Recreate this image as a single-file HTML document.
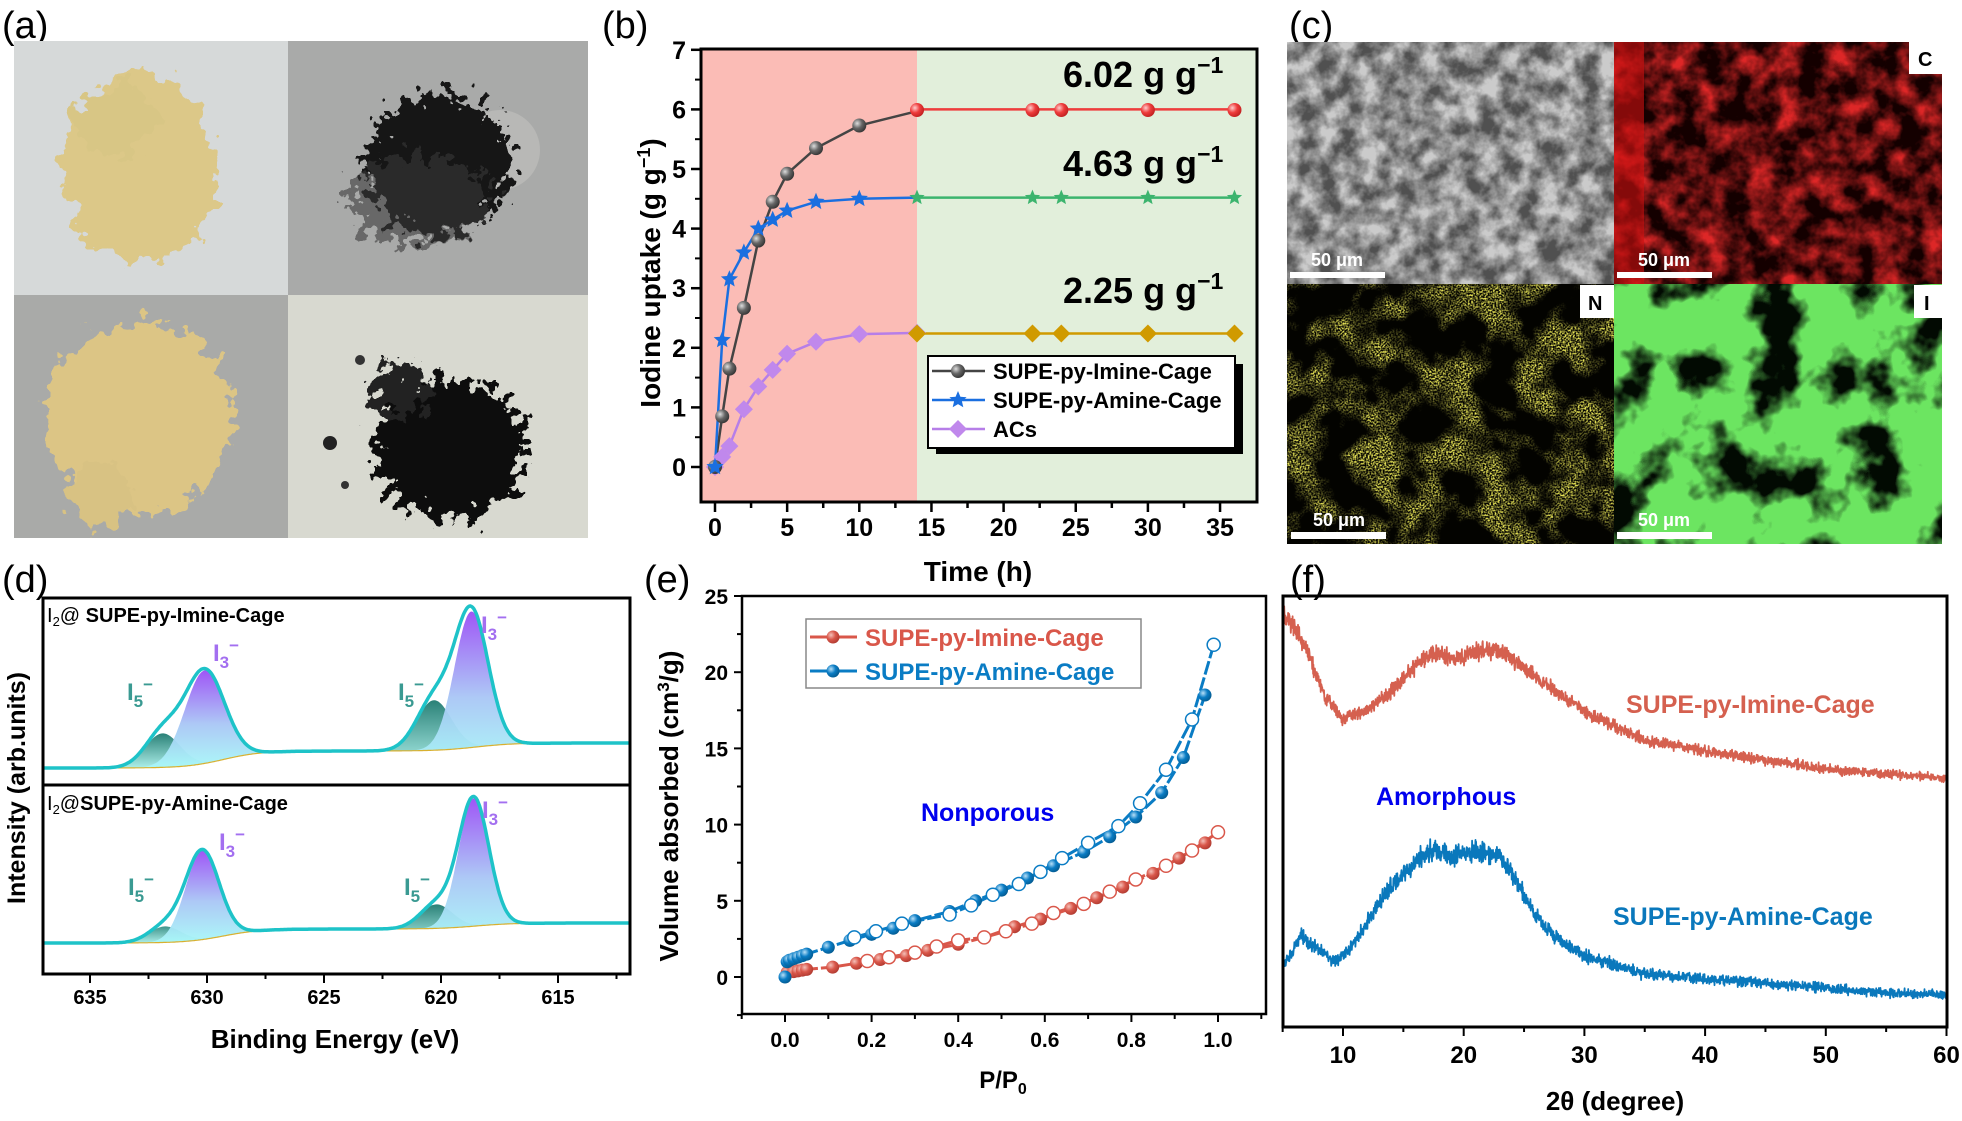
<!DOCTYPE html>
<html><head><meta charset="utf-8">
<style>
html,body{margin:0;padding:0;background:#fff;}
svg{display:block;font-family:"Liberation Sans",Arial,sans-serif;}
</style></head>
<body>
<svg id="s" xmlns="http://www.w3.org/2000/svg" width="1962" height="1121" viewBox="0 0 1962 1121">
<defs>
  <filter id="rough" x="-20%" y="-20%" width="140%" height="140%">
    <feTurbulence type="fractalNoise" baseFrequency="0.06" numOctaves="3" seed="3"/>
    <feDisplacementMap in="SourceGraphic" scale="40" xChannelSelector="R" yChannelSelector="G"/>
  </filter>
  <filter id="rough2" x="-20%" y="-20%" width="140%" height="140%">
    <feTurbulence type="fractalNoise" baseFrequency="0.09" numOctaves="3" seed="7"/>
    <feDisplacementMap in="SourceGraphic" scale="55" xChannelSelector="R" yChannelSelector="G"/>
  </filter>
  <filter id="texR"><feTurbulence type="fractalNoise" baseFrequency="0.04" numOctaves="4" seed="11"/>
    <feColorMatrix values="0 0 0 0 0.72  0 0 0 0 0.02  0 0 0 0 0.02  2.2 0 0 0 -0.75"/></filter>
  <filter id="texY" x="0" y="0" width="100%" height="100%">
    <feTurbulence type="fractalNoise" baseFrequency="0.025" numOctaves="3" seed="21" result="lo"/>
    <feColorMatrix in="lo" type="matrix" values="0 0 0 0 0  0 0 0 0 0  0 0 0 0 0  4 0 0 0 -1.7" result="mask"/>
    <feTurbulence type="fractalNoise" baseFrequency="0.6" numOctaves="1" seed="5" result="hi"/>
    <feColorMatrix in="hi" type="matrix" values="0 0 0 0 0.85  0 0 0 0 0.82  0 0 0 0 0.1  3 0 0 0 -1.1" result="dots"/>
    <feComposite in="dots" in2="mask" operator="in"/></filter>
  <filter id="texG"><feTurbulence type="fractalNoise" baseFrequency="0.02" numOctaves="4" seed="2"/>
    <feColorMatrix values="0 0 0 0 0.15  0 0 0 0 0.78  0 0 0 0 0.12  5 0 0 0 -1.6"/></filter>
  <filter id="texS"><feTurbulence type="fractalNoise" baseFrequency="0.05" numOctaves="4" seed="9"/>
    <feColorMatrix values="0 0 0 0 0.6  0 0 0 0 0.6  0 0 0 0 0.6  2.2 0 0 0 -0.6"/></filter>
  <linearGradient id="gI3" x1="0" y1="0" x2="0" y2="1">
    <stop offset="0" stop-color="#9a4df5"/><stop offset="0.55" stop-color="#a9c6f5"/><stop offset="1" stop-color="#a8f8f8"/></linearGradient>
  <linearGradient id="gI5" x1="0" y1="0" x2="0" y2="1">
    <stop offset="0" stop-color="#1f7a70"/><stop offset="1" stop-color="#a8eee8"/></linearGradient>
  <radialGradient id="ballK" cx="0.35" cy="0.35" r="0.7"><stop offset="0" stop-color="#ddd"/><stop offset="0.5" stop-color="#666"/><stop offset="1" stop-color="#333"/></radialGradient>
  <radialGradient id="ballR" cx="0.35" cy="0.35" r="0.7"><stop offset="0" stop-color="#fcc"/><stop offset="0.5" stop-color="#ee3c3c"/><stop offset="1" stop-color="#c02020"/></radialGradient>
  <radialGradient id="ballE" cx="0.35" cy="0.35" r="0.7"><stop offset="0" stop-color="#f5c0b8"/><stop offset="0.5" stop-color="#d9574a"/><stop offset="1" stop-color="#b03a30"/></radialGradient>
  <radialGradient id="ballB" cx="0.35" cy="0.35" r="0.7"><stop offset="0" stop-color="#b8e0f8"/><stop offset="0.5" stop-color="#0a7cc4"/><stop offset="1" stop-color="#035a90"/></radialGradient>
  <clipPath id="cTL"><rect x="14" y="41" width="274" height="254"/></clipPath>
  <clipPath id="cTR"><rect x="288" y="41" width="300" height="254"/></clipPath>
  <clipPath id="cBL"><rect x="14" y="295" width="274" height="243"/></clipPath>
  <clipPath id="cBR"><rect x="288" y="295" width="300" height="243"/></clipPath>
  <clipPath id="c1"><rect x="1287" y="42" width="327" height="242"/></clipPath>
  <clipPath id="c2"><rect x="1614" y="42" width="328" height="242"/></clipPath>
  <clipPath id="c3"><rect x="1287" y="284" width="327" height="260"/></clipPath>
  <clipPath id="c4"><rect x="1614" y="284" width="328" height="260"/></clipPath>
  <clipPath id="cD"><rect x="43" y="598" width="587" height="376"/></clipPath>
  <clipPath id="cF"><rect x="1283" y="596" width="664" height="431"/></clipPath>
</defs>

<g font-size="38" fill="#000">
<text x="2" y="38">(a)</text>
<text x="602" y="38">(b)</text>
<text x="1289" y="38">(c)</text>
<text x="2" y="592">(d)</text>
<text x="644" y="592">(e)</text>
<text x="1290" y="592">(f)</text>
</g>

<g clip-path="url(#cTL)"><rect x="14" y="41" width="274" height="254" fill="#d6d9d9"/>
<g filter="url(#rough)"><ellipse cx="140" cy="168" rx="78" ry="95" fill="#dcc888"/><ellipse cx="115" cy="120" rx="40" ry="35" fill="#d8c685"/></g></g>
<g clip-path="url(#cTR)"><rect x="288" y="41" width="300" height="254" fill="#a9aaa9"/>
<ellipse cx="500" cy="150" rx="40" ry="40" fill="#b8b8b6"/>
<g filter="url(#rough2)"><ellipse cx="438" cy="165" rx="72" ry="72" fill="#151515"/><ellipse cx="420" cy="200" rx="70" ry="45" fill="#3a3a3a" opacity="0.6"/></g></g>
<g clip-path="url(#cBL)"><rect x="14" y="295" width="274" height="243" fill="#a9aaa8"/>
<g filter="url(#rough)"><ellipse cx="140" cy="418" rx="95" ry="95" fill="#dcc585"/><ellipse cx="100" cy="495" rx="30" ry="35" fill="#d8c283"/></g></g>
<g clip-path="url(#cBR)"><rect x="288" y="295" width="300" height="243" fill="#d8d9d0"/>
<g filter="url(#rough2)"><ellipse cx="450" cy="450" rx="75" ry="70" fill="#101010"/><ellipse cx="400" cy="390" rx="30" ry="25" fill="#222"/></g>
<circle cx="330" cy="443" r="7" fill="#222"/><circle cx="360" cy="360" r="5" fill="#333"/><circle cx="345" cy="485" r="4" fill="#333"/></g>

<g clip-path="url(#c1)"><rect x="1287" y="42" width="327" height="242" fill="#505050"/>
<rect x="1287" y="42" width="327" height="242" filter="url(#texS)"/></g>
<g clip-path="url(#c2)"><rect x="1614" y="42" width="328" height="242" fill="#140000"/>
<rect x="1614" y="42" width="328" height="242" filter="url(#texR)"/>
<rect x="1614" y="42" width="30" height="242" fill="#d01010" opacity="0.6"/></g>
<g clip-path="url(#c3)"><rect x="1287" y="284" width="327" height="260" fill="#030300"/>
<rect x="1287" y="284" width="327" height="260" filter="url(#texY)"/></g>
<g clip-path="url(#c4)"><rect x="1614" y="284" width="328" height="260" fill="#020a02"/>
<rect x="1614" y="284" width="328" height="260" filter="url(#texG)"/></g>
<g fill="#fff"><rect x="1909" y="42" width="33" height="32"/><rect x="1580" y="285" width="34" height="33"/><rect x="1914" y="285" width="28" height="33"/>
<rect x="1290" y="272" width="95" height="6"/><rect x="1617" y="272" width="95" height="6"/><rect x="1291" y="532" width="95" height="7"/><rect x="1617" y="532" width="95" height="7"/></g>
<g font-weight="bold" font-size="20" fill="#000"><text x="1918" y="66">C</text><text x="1588" y="310">N</text><text x="1924" y="310">I</text></g>
<g font-weight="bold" font-size="18" fill="#fff"><text x="1311" y="266">50 μm</text><text x="1638" y="266">50 μm</text><text x="1313" y="526">50 μm</text><text x="1638" y="526">50 μm</text></g>

<g id="dyn"></g>
</svg>
<script>
var S=document.getElementById('dyn'),NS='http://www.w3.org/2000/svg';
function E(t,a,p){var e=document.createElementNS(NS,t);for(var k in a)e.setAttribute(k,a[k]);(p||S).appendChild(e);return e;}
function T(x,y,s,a,p){a=a||{};a.x=x;a.y=y;var e=E('text',a,p);e.textContent=s;return e;}
function pts(a){return a.map(function(p){return p[0].toFixed(1)+','+p[1].toFixed(1)}).join(' ');}
var seed=12345;function rnd(){seed=(seed*16807)%2147483647;return seed/2147483647;}
function gn(){return (rnd()+rnd()+rnd()-1.5)/1.5;}

(function(){
var L=701,R=1257,Tp=49,B=502;
var X=function(t){return 715+t*14.43},Y=function(v){return 467-59.6*v};
E('rect',{x:L,y:Tp,width:X(14)-L,height:B-Tp,fill:'#fbbcb6'});
E('rect',{x:X(14),y:Tp,width:R-X(14),height:B-Tp,fill:'#e2efdb'});
var bk=[[0,0],[0.5,0.85],[1,1.65],[2,2.67],[3,3.8],[4,4.45],[5,4.92],[7,5.35],[10,5.73],[14,5.97]];
var bl=[[0,0],[0.5,2.13],[1,3.15],[2,3.6],[3,4.0],[4,4.15],[5,4.3],[7,4.45],[10,4.5],[14,4.52]];
var pu=[[0,0],[0.5,0.17],[1,0.35],[2,0.97],[3,1.35],[4,1.63],[5,1.9],[7,2.1],[10,2.23],[14,2.25]];
var m=function(a){return a.map(function(p){return [X(p[0]),Y(p[1])]})};
E('polyline',{points:pts(m(pu)),fill:'none',stroke:'#b67ee8','stroke-width':2.5});
E('polyline',{points:pts(m(bk)),fill:'none',stroke:'#444','stroke-width':2.5});
E('polyline',{points:pts(m(bl)),fill:'none',stroke:'#1a6fe0','stroke-width':2.5});
var tt=[14,22,24,30,36];
E('line',{x1:X(14),x2:X(36),y1:Y(6.0),y2:Y(6.0),stroke:'#ee3c3c','stroke-width':2.5});
E('line',{x1:X(14),x2:X(36),y1:Y(4.52),y2:Y(4.52),stroke:'#3cb46e','stroke-width':2.5});
E('line',{x1:X(14),x2:X(36),y1:Y(2.24),y2:Y(2.24),stroke:'#d09a00','stroke-width':2.5});
function star(cx,cy,r,c){var a=[];for(var i=0;i<10;i++){var rr=i%2?r*0.45:r,an=-Math.PI/2+i*Math.PI/5;a.push([cx+rr*Math.cos(an),cy+rr*Math.sin(an)]);}E('polygon',{points:pts(a),fill:c});}
function dia(cx,cy,r,c){E('polygon',{points:pts([[cx,cy-r],[cx+r,cy],[cx,cy+r],[cx-r,cy]]),fill:c});}
pu.forEach(function(p){dia(X(p[0]),Y(p[1]),9,'#c088ec')});
bk.forEach(function(p){if(p[0]<14)E('circle',{cx:X(p[0]),cy:Y(p[1]),r:7,fill:'url(#ballK)'})});
bl.forEach(function(p){if(p[0]<14)star(X(p[0]),Y(p[1]),9,'#1a6fe0')});
tt.forEach(function(t){E('circle',{cx:X(t),cy:Y(5.99),r:7,fill:'url(#ballR)'});star(X(t),Y(4.52),8,'#3cb46e');dia(X(t),Y(2.24),9,'#d09a00');});
E('rect',{x:L,y:Tp,width:R-L,height:B-Tp,fill:'none',stroke:'#000','stroke-width':3});
for(var v=0;v<=7;v++){E('line',{x1:L-10,x2:L,y1:Y(v),y2:Y(v),stroke:'#000','stroke-width':2.5});T(686,Y(v)+9,String(v),{'font-size':25,'font-weight':'bold','text-anchor':'end'});
 if(v<7)E('line',{x1:L-6,x2:L,y1:Y(v+0.5),y2:Y(v+0.5),stroke:'#000','stroke-width':2});}
for(var t=0;t<=35;t+=2.5){var maj=t%5==0;E('line',{x1:X(t),x2:X(t),y1:B,y2:B+(maj?10:6),stroke:'#000','stroke-width':2.5});
 if(maj)T(X(t),536,String(t),{'font-size':25,'font-weight':'bold','text-anchor':'middle'});}
T(978,581,'Time (h)',{'font-size':28,'font-weight':'bold','text-anchor':'middle'});
var yl=T(0,0,'',{'font-size':28,'font-weight':'bold','text-anchor':'middle',transform:'translate(660,273) rotate(-90)'});
yl.innerHTML='Iodine uptake (g g<tspan dy="-10" font-size="18">−1</tspan><tspan dy="10">)</tspan>';
[['6.02',87],['4.63',176],['2.25',303]].forEach(function(a){var e=T(1063,a[1],'',{'font-size':36,'font-weight':'bold'});e.innerHTML=a[0]+' g g<tspan dy="-14" font-size="23">−1</tspan>';});
E('rect',{x:936,y:364,width:307,height:90,fill:'#000'});
E('rect',{x:928,y:356,width:307,height:92,fill:'#fff',stroke:'#000','stroke-width':2});
var ly=[371,400,429],lc=['#444','#1a6fe0','#b67ee8'],ln=['SUPE-py-Imine-Cage','SUPE-py-Amine-Cage','ACs'];
for(var i=0;i<3;i++){E('line',{x1:932,x2:985,y1:ly[i],y2:ly[i],stroke:lc[i],'stroke-width':2.5});
 if(i==0)E('circle',{cx:958,cy:ly[i],r:7,fill:'url(#ballK)'});if(i==1)star(958,ly[i],9,'#1a6fe0');if(i==2)dia(958,ly[i],9,'#c088ec');
 T(993,ly[i]+8,ln[i],{'font-size':22,'font-weight':'bold'});}
})();

(function(){
var X=function(e){return 90+(635-e)*23.4};
var cg=E('g',{'clip-path':'url(#cD)'});
function panel(base,comps){
 var es=[];for(var e=637.5;e>=611.5;e-=0.05)es.push(e);
 comps.forEach(function(c){var a=es.map(function(e){return [X(e),base(e)-c[1]*Math.exp(-Math.pow((e-c[0])/c[2],2)/2)]});
  var bb=es.slice().reverse().map(function(e){return [X(e),base(e)]});
  E('polygon',{points:pts(a.concat(bb)),fill:c[3],opacity:0.95},cg);});
 E('polyline',{points:pts(es.map(function(e){return [X(e),base(e)]})),fill:'none',stroke:'#d8b030','stroke-width':1.2},cg);
 var env=es.map(function(e){var y=base(e);comps.forEach(function(c){y-=c[1]*Math.exp(-Math.pow((e-c[0])/c[2],2)/2)});return [X(e),y]});
 E('polyline',{points:pts(env),fill:'none',stroke:'#888','stroke-width':1.5},cg);
 E('polyline',{points:pts(env),fill:'none',stroke:'#1ec3c8','stroke-width':3.5},cg);
}
function sig(e,c,w){return 1/(1+Math.exp((e-c)/w));}
panel(function(e){return 743+17*(1-sig(e,629.3,0.8))+8*(1-sig(e,618.5,0.8))},
 [[631.9,34,0.75,'url(#gI5)'],[630.1,93,0.85,'url(#gI3)'],[620.3,50,0.75,'url(#gI5)'],[618.7,136,0.72,'url(#gI3)']]);
panel(function(e){return 923+14*(1-sig(e,629.3,0.8))+6*(1-sig(e,618.5,0.8))},
 [[631.8,16,0.7,'url(#gI5)'],[630.2,89,0.72,'url(#gI3)'],[620.2,24,0.7,'url(#gI5)'],[618.6,128,0.65,'url(#gI3)']]);
E('rect',{x:43,y:598,width:587,height:376,fill:'none',stroke:'#000','stroke-width':3});
E('line',{x1:43,x2:630,y1:785,y2:785,stroke:'#000','stroke-width':3});
for(var e=635;e>=613;e-=2.5){var maj=e%5==0;E('line',{x1:X(e),x2:X(e),y1:974,y2:974+(maj?9:5),stroke:'#000','stroke-width':2});
 if(maj)T(X(e),1004,String(e),{'font-size':20,'font-weight':'bold','text-anchor':'middle'});}
E('line',{x1:X(612.5),x2:X(612.5),y1:974,y2:979,stroke:'#000','stroke-width':2});
T(335,1048,'Binding Energy (eV)',{'font-size':26,'font-weight':'bold','text-anchor':'middle'});
T(0,0,'Intensity (arb.units)',{'font-size':25,'font-weight':'bold','text-anchor':'middle',transform:'translate(25,788) rotate(-90)'});
var a=T(47,622,'',{'font-size':20});a.innerHTML='I<tspan dy="4" font-size="13">2</tspan><tspan dy="-4">@ </tspan><tspan font-weight="bold">SUPE-py-Imine-Cage</tspan>';
var b=T(47,810,'',{'font-size':20});b.innerHTML='I<tspan dy="4" font-size="13">2</tspan><tspan dy="-4">@</tspan><tspan font-weight="bold">SUPE-py-Amine-Cage</tspan>';
function ion(x,y,n,c){var e=T(x,y,'',{'font-size':24,'font-weight':'bold',fill:c});e.innerHTML='I<tspan dy="7" font-size="17">'+n+'</tspan><tspan dy="-17" font-size="17">−</tspan>';}
ion(213,661,'3','#a36ff0');ion(127,700,'5','#3a9a92');ion(398,700,'5','#3a9a92');ion(481,633,'3','#a36ff0');
ion(219,850,'3','#a36ff0');ion(128,895,'5','#3a9a92');ion(404,895,'5','#3a9a92');ion(482,818,'3','#a36ff0');
})();

(function(){
var L=742,R=1266,Tp=596,B=1014;
var X=function(p){return 785+433*p},Y=function(v){return 977-15.24*v};
var bA=[[0,0],[0.005,1.0],[0.01,1.1],[0.02,1.2],[0.03,1.3],[0.04,1.4],[0.05,1.5],[0.1,1.95],[0.15,2.4],[0.2,2.8],[0.25,3.2],[0.3,3.7],[0.38,4.3],[0.44,5.0],[0.5,5.7],[0.56,6.5],[0.62,7.3],[0.69,8.2],[0.75,9.2],[0.81,10.5],[0.87,12.1],[0.92,14.4],[0.97,18.5]];
var bD=[[0.99,21.8],[0.94,16.9],[0.88,13.6],[0.82,11.4],[0.77,9.9],[0.7,8.8],[0.64,7.8],[0.59,6.9],[0.54,6.1],[0.48,5.4],[0.43,4.7],[0.38,4.1],[0.27,3.5],[0.21,3.0],[0.16,2.6]];
var rA=[[0.005,0.3],[0.02,0.35],[0.03,0.4],[0.04,0.45],[0.05,0.5],[0.11,0.65],[0.165,0.9],[0.22,1.15],[0.28,1.4],[0.33,1.75],[0.4,2.15],[0.46,2.6],[0.53,3.3],[0.59,3.8],[0.66,4.5],[0.72,5.2],[0.78,5.9],[0.85,6.8],[0.91,7.8],[0.97,8.8]];
var rD=[[1.0,9.5],[0.94,8.3],[0.88,7.3],[0.81,6.4],[0.75,5.6],[0.69,4.8],[0.62,4.2],[0.57,3.5],[0.51,3.0],[0.46,2.6],[0.4,2.4],[0.35,2.0],[0.3,1.6],[0.24,1.3],[0.19,1.05]];
var m=function(a){return a.map(function(p){return [X(p[0]),Y(p[1])]})};
[[rA,'#d9574a'],[rD,'#d9574a'],[bA,'#0a7cc4'],[bD,'#0a7cc4']].forEach(function(s){E('polyline',{points:pts(m(s[0])),fill:'none',stroke:s[1],'stroke-width':3,'stroke-dasharray':'14 3'});});
rA.forEach(function(p){E('circle',{cx:X(p[0]),cy:Y(p[1]),r:6.5,fill:'url(#ballE)'})});
rD.forEach(function(p){E('circle',{cx:X(p[0]),cy:Y(p[1]),r:6.5,fill:'#fff',stroke:'#d9574a','stroke-width':1.5})});
bA.forEach(function(p){E('circle',{cx:X(p[0]),cy:Y(p[1]),r:6.5,fill:'url(#ballB)'})});
bD.forEach(function(p){E('circle',{cx:X(p[0]),cy:Y(p[1]),r:6.5,fill:'#fff',stroke:'#0a7cc4','stroke-width':1.5})});
E('rect',{x:L,y:Tp,width:R-L,height:B-Tp,fill:'none',stroke:'#000','stroke-width':2.5});
for(var v=-2.5;v<=25;v+=2.5){var maj=v%5==0;E('line',{x1:L-(maj?8:5),x2:L,y1:Y(v),y2:Y(v),stroke:'#000','stroke-width':2});
 if(maj)T(728,Y(v)+8,String(v),{'font-size':21,'font-weight':'bold','text-anchor':'end'});}
for(var p=-0.1;p<=1.101;p+=0.1){var k=Math.round(p*10),maj=k%2==0;E('line',{x1:X(p),x2:X(p),y1:B,y2:B+(maj?8:5),stroke:'#000','stroke-width':2});
 if(maj&&k>=0)T(X(p),1047,(k/10).toFixed(1),{'font-size':21,'font-weight':'bold','text-anchor':'middle'});}
var px=T(1003,1088,'',{'font-size':24,'font-weight':'bold','text-anchor':'middle'});px.innerHTML='P/P<tspan dy="6" font-size="16">0</tspan>';
var yl=T(0,0,'',{'font-size':26,'font-weight':'bold','text-anchor':'middle',transform:'translate(678,806) rotate(-90)'});
yl.innerHTML='Volume absorbed (cm<tspan dy="-9" font-size="17">3</tspan><tspan dy="9">/g)</tspan>';
E('rect',{x:806,y:619,width:335,height:69,fill:'#fff',stroke:'#888','stroke-width':1.5});
[[646,'#d9574a','url(#ballE)','SUPE-py-Imine-Cage'],[680,'#0a7cc4','url(#ballB)','SUPE-py-Amine-Cage']].forEach(function(a){
 E('line',{x1:810,x2:857,y1:a[0]-9,y2:a[0]-9,stroke:a[1],'stroke-width':3});E('circle',{cx:833,cy:a[0]-9,r:6.5,fill:a[2]});
 T(865,a[0],a[3],{'font-size':24,'font-weight':'bold',fill:a[1]});});
T(921,821,'Nonporous',{'font-size':25,'font-weight':'bold',fill:'#0000ee'});
})();

(function(){
var L=1283,R=1947,Tp=596,B=1027;
var X=function(t){return 1343+(t-10)*12.07};
var red=[[5,614],[6,628],[7,650],[8.5,697],[10,718],[12,711],[14,690],[16,666],[17.5,652],[19,659],[21,652],[23,650],[25,668],[27,686],[30,711],[33,729],[35,740],[40,751],[45,760],[50,769],[55,774],[60,778]];
var blu=[[5,968],[6.5,936],[8,950],[9,960],[10,956],[11,942],[12,922],[13,902],[14,886],[16,862],[17.5,850],[19,857],[21,851],[23,855],[24.5,884],[26,916],[28,941],[30,956],[35,974],[40,979],[45,983],[50,988],[55,993],[60,995]];
function interp(a,t){for(var i=0;i<a.length-1;i++){if(t<=a[i+1][0]){var f=(t-a[i][0])/(a[i+1][0]-a[i][0]);return a[i][1]+f*(a[i+1][1]-a[i][1]);}}return a[a.length-1][1];}
var cg=E('g',{'clip-path':'url(#cF)'});
function draw(a,c,amp,base){var p=[];for(var t=5;t<=60;t+=0.025){var y=interp(a,t);var w=amp*(1+1.2*Math.max(0,(base-y)/140));p.push([X(t),y+gn()*w]);}
 E('polyline',{points:pts(p),fill:'none',stroke:c,'stroke-width':1.8,'stroke-linejoin':'round'},cg);}
draw(red,'#d5604f',6,780);draw(blu,'#0a78bc',6.5,995);
E('rect',{x:L,y:Tp,width:R-L,height:B-Tp,fill:'none',stroke:'#000','stroke-width':3});
for(var t=5;t<=60;t+=5){var maj=t%10==0;E('line',{x1:X(t),x2:X(t),y1:B,y2:B+(maj?9:5),stroke:'#000','stroke-width':2});
 if(maj)T(X(t),1063,String(t),{'font-size':24,'font-weight':'bold','text-anchor':'middle'});}
T(1615,1110,'2θ (degree)',{'font-size':26,'font-weight':'bold','text-anchor':'middle'});
T(1626,713,'SUPE-py-Imine-Cage',{'font-size':25,'font-weight':'bold',fill:'#d5604f'});
T(1613,925,'SUPE-py-Amine-Cage',{'font-size':25,'font-weight':'bold',fill:'#0a78bc'});
T(1376,805,'Amorphous',{'font-size':25,'font-weight':'bold',fill:'#0000ee'});
})();
</script>
</body></html>
